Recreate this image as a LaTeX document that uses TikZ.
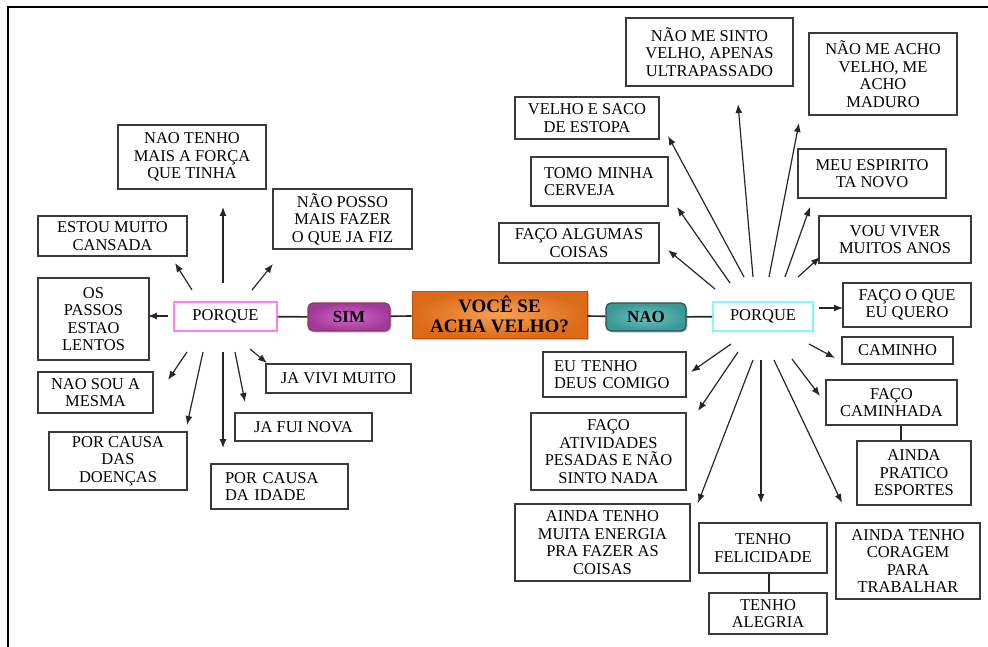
\documentclass[tikz,border=0pt]{standalone}
\usepackage{fontspec}
\setmainfont{Liberation Serif}
\usetikzlibrary{arrows.meta,shadows}
\definecolor{boxline}{HTML}{3A3A3A}
\definecolor{orin}{HTML}{F5A258}
\definecolor{orout}{HTML}{DC6A18}
\definecolor{orline}{HTML}{B85410}
\definecolor{simin}{HTML}{D866D0}
\definecolor{simout}{HTML}{A03A98}
\definecolor{simline}{HTML}{8A3A5A}
\definecolor{naoin}{HTML}{6CC6C4}
\definecolor{naoout}{HTML}{3A9896}
\definecolor{naoline}{HTML}{2E4E4E}
\definecolor{pinkline}{HTML}{FF80F4}
\definecolor{cyanline}{HTML}{80F8FF}
\definecolor{arrcol}{HTML}{262626}
\tikzset{
  txt/.style={font=\fontsize{16.5}{17.5}\selectfont, text=black},
  box/.style={txt, draw=boxline, line width=1.3pt, fill=white, align=center, inner sep=2pt},
  lbox/.style={txt, draw=boxline, line width=1.3pt, fill=white, align=left, inner ysep=2pt},
  arr/.style={draw=arrcol, line width=1.2pt, -{Latex[length=9pt,width=7pt]}},
  link/.style={draw=black!85, line width=1.6pt},
  pillbox/.style={font=\fontsize{17}{18}\selectfont\bfseries, rounded corners=5pt, line width=1.2pt,
     minimum width=80pt, minimum height=28pt, inner sep=1pt,
     drop shadow={shadow xshift=1.5pt, shadow yshift=-1.5pt, fill=black!35, opacity=0.6}},
}
\begin{document}
\begin{tikzpicture}[x=1pt,y=-1pt]
\useasboundingbox (0,0) rectangle (988,647);
\draw[line width=2.2pt, black] (8,647) -- (8,7) -- (988,7);

% central nodes
\node[font=\fontsize{19}{20}\selectfont\bfseries, align=center, draw=orline, line width=1pt,
      inner color=orin, outer color=orout, minimum width=175pt, minimum height=47pt, inner sep=1pt,
      drop shadow={shadow xshift=2pt, shadow yshift=-2pt, fill=black!40, opacity=0.6}]
      (voce) at (499.5,314.5) {VOCÊ SE\\ACHA VELHO?};
\node[pillbox, draw=simline, inner color=simin, outer color=simout, minimum width=82pt] (sim) at (349,317) {SIM};
\node[pillbox, draw=naoline, inner color=naoin, outer color=naoout] (nao) at (646,317) {NAO};
\node[txt, draw=pinkline, line width=1.8pt, fill=white, minimum width=103pt, minimum height=29pt, inner sep=1pt] (porqL) at (225.5,316.5) {PORQUE};
\node[txt, draw=cyanline, line width=1.8pt, fill=white, minimum width=100pt, minimum height=29pt, inner sep=1pt] (porqR) at (763,316.5) {PORQUE};

\draw[link] (porqL) -- (sim);
\draw[link] (sim) -- (voce);
\draw[link] (voce) -- (nao);
\draw[link] (nao) -- (porqR);

% left boxes
\node[box, minimum width=148pt, minimum height=64pt] (nto) at (192,157) {NAO TENHO\\MAIS A FORÇA\\QUE TINHA};
\node[box, minimum width=149pt, minimum height=40pt] (cans) at (112.5,236) {ESTOU MUITO\\CANSADA};
\node[box, minimum width=139pt, minimum height=60pt] (posso) at (342.5,219) {NÃO POSSO\\MAIS FAZER\\O QUE JA FIZ};
\node[box, minimum width=111pt, minimum height=82pt] (passos) at (93.5,319) {OS\\PASSOS\\ESTAO\\LENTOS};
\node[box, minimum width=115pt, minimum height=41pt] (mesma) at (95.5,392.5) {NAO SOU A\\MESMA};
\node[box, minimum width=138pt, minimum height=58pt] (doencas) at (118,461) {POR CAUSA\\DAS\\DOENÇAS};
\node[lbox, text width=109pt, inner xsep=14pt, minimum height=45pt] (idade) at (279.5,486.5) {POR CAUSA\\DA IDADE};
\node[box, minimum width=137pt, minimum height=28pt] (fui) at (303.5,427) {JA FUI NOVA};
\node[box, minimum width=145pt, minimum height=29pt] (vivi) at (338.5,378.5) {JA VIVI MUITO};

% right boxes
\node[box, minimum width=167pt, minimum height=68pt] (sinto) at (709.5,52) {NÃO ME SINTO\\VELHO, APENAS\\ULTRAPASSADO};
\node[box, minimum width=148pt, minimum height=82pt] (acho) at (883,74) {NÃO ME ACHO\\VELHO, ME\\ACHO\\MADURO};
\node[box, minimum width=144pt, minimum height=42pt] (saco) at (587,118) {VELHO E SACO\\DE ESTOPA};
\node[lbox, text width=111pt, inner xsep=13pt, minimum height=49pt] (tomo) at (599.5,181.5) {TOMO MINHA\\CERVEJA};
\node[box, minimum width=160pt, minimum height=40pt] (algumas) at (579,243) {FAÇO ALGUMAS\\COISAS};
\node[box, minimum width=148pt, minimum height=49pt] (espirito) at (872,173.5) {MEU ESPIRITO\\TA NOVO};
\node[box, minimum width=152pt, minimum height=47pt] (viver) at (895,239.5) {VOU VIVER\\MUITOS ANOS};
\node[box, minimum width=128pt, minimum height=44pt] (quero) at (907,305) {FAÇO O QUE\\EU QUERO};
\node[box, minimum width=111pt, minimum height=27pt] (caminho) at (897.5,350.5) {CAMINHO};
\node[box, minimum width=131pt, minimum height=45pt] (caminhada) at (891.5,402.5) {FAÇO\\CAMINHADA};
\node[box, minimum width=114pt, minimum height=64pt] (esportes) at (914,473) {AINDA\\PRATICO\\ESPORTES};
\node[box, minimum width=144pt, minimum height=76pt] (coragem) at (908,561) {AINDA TENHO\\CORAGEM\\PARA\\TRABALHAR};
\node[box, minimum width=128pt, minimum height=50pt] (felic) at (763,548) {TENHO\\FELICIDADE};
\node[box, minimum width=118pt, minimum height=41pt] (alegria) at (768,613.5) {TENHO\\ALEGRIA};
\node[box, minimum width=175pt, minimum height=77pt] (energia) at (602.5,542.5) {AINDA TENHO\\MUITA ENERGIA\\PRA FAZER AS\\COISAS};
\node[box, minimum width=155pt, minimum height=77pt] (ativ) at (608.5,451.5) {FAÇO\\ATIVIDADES\\PESADAS E NÃO\\SINTO NADA};
\node[lbox, text width=121pt, inner xsep=11pt, minimum height=45pt] (deus) at (614.5,374.5) {EU TENHO\\DEUS COMIGO};

\draw[link, line width=2pt] (caminhada.south -| 901,0) -- (esportes.north -| 901,0);
\draw[link, line width=2pt] (felic.south -| 769,0) -- (alegria.north -| 769,0);

% arrows (start near PORQUE, tip near target box)
\foreach \n/\sx/\sy/\tx/\ty in {
  a1/223/283/223/207, a2/192/290/175/263, a3/252/290/273/264, a4/168/316/148/316,
  a5/187/352/168/380, a6/203/352/187/425, a7/223/352/223/448, a8/235/352/245/402,
  a9/250/349/267/363,
  b1/715/289/668/250, b2/730/283/677/207, b3/744/277/668/136, b4/753/277/738/104,
  b5/769/277/799/123, b6/785/277/810/207, b7/798/277/820/257, b8/819/308/843/308,
  b9/809/344/835/358, b10/792/359/820/396, b11/774/360/842/503, b12/761/360/761/503,
  b13/753/360/698/503, b14/738/352/698/411, b15/731/344/691/372}
{
  \coordinate (s\n) at (\sx,\sy);
  \coordinate (t\n) at (\tx,\ty);
  \draw[arr] (s\n) -- (t\n);
}
\end{tikzpicture}
\end{document}
